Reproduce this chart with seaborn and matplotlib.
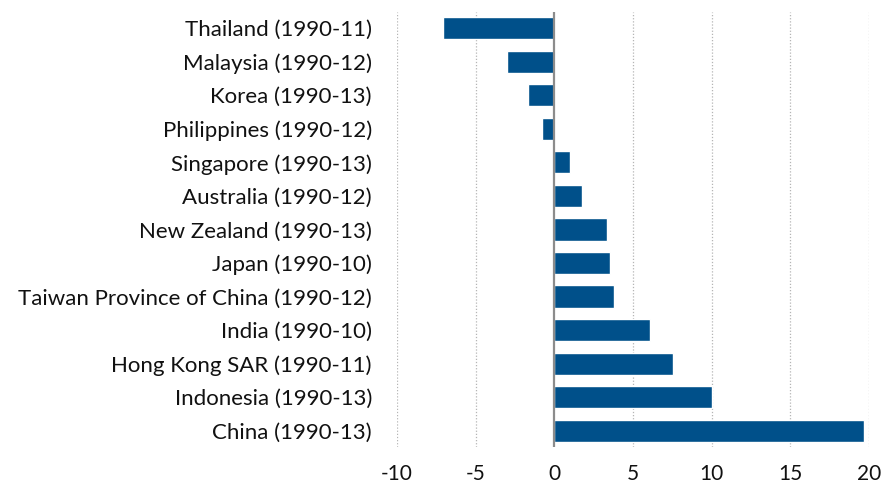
import pandas as pd
import matplotlib
matplotlib.use('Agg')
import matplotlib.pyplot as plt
import seaborn as sns

countries = ['Thailand (1990-11)', 'Malaysia (1990-12)', 'Korea (1990-13)', 'Philippines (1990-12)',
             'Singapore (1990-13)', 'Australia (1990-12)', 'New Zealand (1990-13)', 'Japan (1990-10)',
             'Taiwan Province of China (1990-12)', 'India (1990-10)', 'Hong Kong SAR (1990-11)',
             'Indonesia (1990-13)', 'China (1990-13)']
values = [-7.1, -3.0, -1.65, -0.8, 1.0, 1.75, 3.35, 3.55, 3.8, 6.1, 7.55, 10.0, 19.7]
xticks = [-10, -5, 0, 5, 10, 15, 20]

df = pd.DataFrame({'country': countries, 'value': values})

sns.set_style('white')
plt.rcParams['font.family'] = ['Lato', 'DejaVu Sans']

fig = plt.figure(figsize=(8.84, 4.9), dpi=100)
ax = fig.add_axes([0.449, 0.088, 0.534, 0.8875])
sns.barplot(data=df, y='country', x='value', orient='h', color='#00508a',
            saturation=1, width=0.66, ax=ax)

ax.set_xlim(-10, 20)
ax.set_ylim(12.48, -0.48)
ax.set_xticks(xticks)
ax.set_xticklabels([str(t) for t in xticks])
for t in xticks:
    if t != 0:
        ax.axvline(t, color='#b5b5b5', lw=0.9, ls=(0, (1, 1.5)), zorder=0)
ax.axvline(0, color='#8c8c8c', lw=1.6, zorder=3)
for s in ax.spines.values():
    s.set_visible(False)
ax.set_xlabel('')
ax.set_ylabel('')
ax.tick_params(axis='x', length=0, pad=12, labelsize=15, labelcolor='#111111')
ax.tick_params(axis='y', length=0, pad=18, labelsize=16, labelcolor='#111111')

plt.savefig('out.png', dpi=100)
plt.close()
